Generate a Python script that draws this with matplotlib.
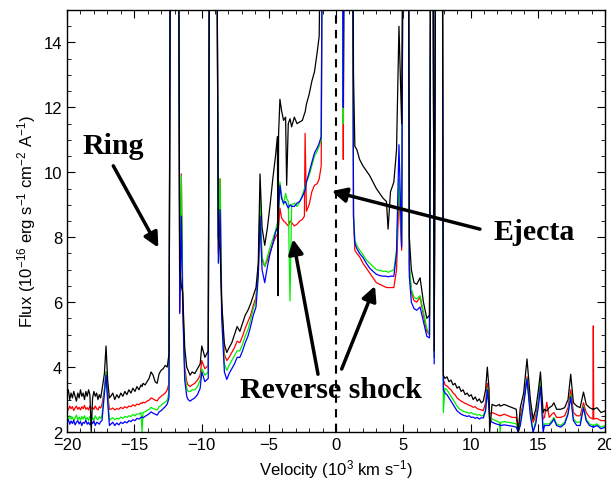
import matplotlib
matplotlib.use('Agg')
import matplotlib.pyplot as plt
from matplotlib.ticker import MultipleLocator

plt.rcParams['font.family'] = 'Liberation Sans'
plt.rcParams['mathtext.default'] = 'regular'

# velocity grid (10^3 km/s); flux values above 15 are lines running off the top
velocity = [
    -20.0, -19.9, -19.8, -19.7, -19.6, -19.5, -19.4, -19.3, -19.2, -19.1, -19.0, -18.9, -18.8, -18.7,
    -18.6, -18.5, -18.4, -18.3, -18.2, -18.1, -18.0, -17.9, -17.8, -17.7, -17.6, -17.5, -17.4,
    -17.22, -17.1, -16.98, -16.85,
    -16.75, -16.6, -16.45, -16.3, -16.15, -16.0, -15.85, -15.7, -15.55, -15.4,
    -15.25, -15.1, -14.95, -14.8, -14.65, -14.5, -14.42, -14.35, -14.2, -14.05,
    -13.9, -13.75, -13.6, -13.45, -13.3, -13.15, -13.0, -12.85, -12.7, -12.55, -12.42,
    -12.3, -11.72, -11.62, -11.5, -11.4, -11.25, -11.1, -11.0,
    -10.85, -10.7, -10.5, -10.3, -10.1, -9.98, -9.75, -9.5,
    -9.4, -8.88, -8.75, -8.62, -8.5, -8.3, -8.12,
    -7.95, -7.75, -7.55, -7.35, -7.15, -6.95, -6.75, -6.55, -6.35, -6.15, -5.95, -5.78,
    -5.65, -5.5, -5.3, -5.1, -4.9, -4.7, -4.5, -4.36, -4.31, -4.27,
    -4.17, -4.05, -3.9, -3.75, -3.67, -3.55, -3.42, -3.3, -3.1, -2.9, -2.7, -2.5, -2.35, -2.3,
    -2.2, -2.0, -1.8, -1.6, -1.4, -1.25, -1.1,
    -1.0, 0.45, 0.54, 0.63, 1.22, 1.3,
    1.4, 1.55, 1.75, 2.0, 2.25, 2.5, 2.75, 3.0, 3.25, 3.5, 3.75, 3.87, 4.05, 4.3,
    4.5, 4.68, 4.88, 5.0, 5.38, 5.45,
    5.6, 5.8, 6.0, 6.25, 6.5, 6.75, 6.95,
    7.05, 7.2, 7.3, 7.42, 7.9,
    7.98, 8.1, 8.25, 8.4, 8.55, 8.7, 8.85, 9.0, 9.15, 9.3,
    9.45, 9.6, 9.75, 9.9, 10.05, 10.2, 10.35, 10.5, 10.65, 10.8, 10.95,
    11.12, 11.25, 11.38, 11.42, 11.6,
    11.9, 12.15, 12.2, 12.25, 12.5, 12.8, 13.1, 13.4, 13.55, 13.7,
    13.95, 14.2, 14.45, 14.65, 14.85, 15.05, 15.2, 15.4, 15.5, 15.67,
    15.85, 16.05, 16.2, 16.4, 16.7, 17.0, 17.25, 17.45, 17.65, 17.9,
    18.15, 18.4, 18.6, 18.85, 19.1, 19.13, 19.16, 19.4, 19.7, 20.0,
]

flux_black = [
    3.15, 3.3, 3.0, 3.2, 3.05, 3.25, 3.1, 2.95, 3.2, 3.05, 3.3, 3.1, 3.2, 3.0,
    3.25, 3.1, 3.3, 3.15, 2.0, 3.05, 3.25, 3.1, 3.2, 3.0, 3.15, 3.05, 3.3,
    3.8, 4.65, 3.6, 3.05,
    3.1, 3.2, 3.0, 3.15, 3.05, 3.2, 3.1, 3.25, 3.15, 3.3,
    3.2, 3.35, 3.25, 3.4, 3.3, 3.45, 3.4, 3.5, 3.45, 3.55,
    3.65, 3.85, 3.75, 3.55, 3.5, 3.8, 3.9, 3.95, 4.05, 4.0, 4.4,
    20, 20, 7.0, 6.5, 6.3, 4.6, 4.0, 3.9,
    3.75, 3.85, 3.8, 3.95, 4.1, 4.65, 4.3, 4.5,
    20, 20, 8.0, 7.6, 6.0, 4.7, 4.45,
    4.6, 4.75, 5.0, 5.25, 5.1, 5.35, 5.6, 5.75, 5.95, 6.2, 6.45, 7.2,
    9.95, 8.3, 7.75, 8.3, 9.0, 9.8, 10.5, 11.1, 6.2, 11.2,
    12.25, 11.9, 11.6, 11.7, 9.6, 11.5, 11.65, 11.4, 11.7, 11.5, 11.55, 11.6, 11.8, 11.85,
    12.1, 12.4, 12.8, 13.1, 13.7, 14.2, 20,
    20, 20, 20, 20, 20, 13.0,
    10.8, 10.7, 10.4, 10.2, 10.05, 9.9, 9.7, 9.5, 9.35, 9.2, 9.1, 8.25, 9.4, 9.7,
    10.7, 14.5, 11.5, 20, 20, 8.0,
    7.0, 6.6, 6.55, 6.75, 6.0, 5.5, 5.6,
    20, 20, 4.5, 20, 20,
    3.75, 3.65, 3.7, 3.55, 3.6, 3.45, 3.5, 3.35, 3.4, 3.25,
    3.3, 3.15, 3.2, 3.1, 3.15, 3.0, 3.08, 2.95, 3.02, 2.9, 2.95,
    3.3, 4.0, 3.3, 2.0, 2.85,
    2.8, 2.85, 2.8, 2.8, 2.85, 2.8, 2.75, 2.7, 2.0, 2.75,
    3.2, 4.25, 3.0, 2.4, 2.7, 3.3, 3.85, 2.6, 2.7, 2.65,
    2.75, 2.8, 2.9, 2.7, 2.7, 2.75, 3.0, 3.78, 2.9, 2.8,
    2.75, 3.23, 2.85, 2.75, 2.7, 2.72, 2.7, 2.75, 2.6, 2.65,
]

flux_red = [
    2.75, 2.68, 2.8, 2.72, 2.78, 2.66, 2.74, 2.8, 2.7, 2.76, 2.68, 2.78, 2.72, 2.82,
    2.7, 2.75, 2.68, 2.8, 2.72, 2.76, 2.7, 2.8, 2.72, 2.68, 2.78, 2.74, 2.85,
    3.3, 3.85, 3.2, 2.7,
    2.7, 2.74, 2.68, 2.72, 2.7, 2.76, 2.72, 2.78, 2.74, 2.8,
    2.78, 2.84, 2.8, 2.86, 2.84, 2.9, 2.88, 2.92, 2.9, 2.95,
    2.98, 3.05, 3.02, 2.98, 2.96, 3.05, 3.1, 3.15, 3.2, 3.3, 3.5,
    20, 20, 5.7, 9.95, 6.0, 4.0, 3.55, 3.45,
    3.4, 3.45, 3.5, 3.6, 3.75, 4.2, 3.95, 4.05,
    20, 20, 7.5, 9.8, 6.0, 4.4, 4.2,
    4.3, 4.45, 4.6, 4.8, 4.75, 4.95, 5.2, 5.4, 5.6, 5.9, 6.15, 7.0,
    8.5, 7.3, 7.1, 7.3, 7.55, 7.8, 8.0, 8.1, 8.15, 8.3,
    8.9, 8.6, 8.5, 8.45, 8.4, 8.35, 8.5, 8.45, 8.35, 8.4, 8.5, 8.55, 8.65, 11.2,
    8.8, 9.0, 9.4, 9.6, 9.65, 9.8, 10.2,
    20, 20, 10.4, 20, 20, 8.6,
    7.6, 7.5, 7.4, 7.2, 7.05, 6.9, 6.75, 6.6, 6.55, 6.5, 6.45, 6.45, 6.45, 6.45,
    7.0, 9.3, 7.6, 20, 20, 7.0,
    6.3, 6.05, 6.0, 6.15, 5.6, 5.1, 5.0,
    20, 20, 4.3, 20, 20,
    3.63, 3.45, 3.42, 3.35, 3.3, 3.2, 3.15, 3.05, 3.0, 2.95,
    2.92, 2.88, 2.86, 2.82, 2.8, 2.76, 2.78, 2.72, 2.7, 2.68, 2.66,
    2.9, 3.5, 2.9, 2.55, 2.6,
    2.55, 2.5, 2.52, 2.5, 2.55, 2.5, 2.45, 2.45, 2.0, 2.5,
    2.95, 3.7, 2.7, 2.3, 2.5, 2.95, 3.5, 2.4, 2.45, 2.92,
    2.45, 2.55, 2.6, 2.45, 2.45, 2.5, 2.75, 3.3, 2.6, 2.5,
    2.5, 2.9, 2.6, 2.45, 2.4, 5.27, 2.4, 2.42, 2.35, 2.35,
]

flux_green = [
    2.45, 2.36, 2.5, 2.4, 2.46, 2.34, 2.44, 2.52, 2.38, 2.46, 2.36, 2.48, 2.4, 2.5,
    2.38, 2.45, 2.35, 2.48, 2.4, 2.44, 2.36, 2.5, 2.42, 2.37, 2.47, 2.42, 2.5,
    3.3, 3.85, 3.1, 2.35,
    2.4, 2.44, 2.38, 2.42, 2.4, 2.46, 2.42, 2.48, 2.45, 2.5,
    2.48, 2.54, 2.5, 2.56, 2.55, 2.6, 2.0, 2.6, 2.62, 2.66,
    2.7, 2.76, 2.72, 2.7, 2.68, 2.78, 2.82, 2.88, 2.92, 2.98, 3.2,
    20, 20, 6.5, 9.9, 6.4, 3.85, 3.35, 3.25,
    3.25, 3.3, 3.3, 3.4, 3.6, 3.95, 3.75, 3.85,
    20, 20, 7.8, 9.8, 5.8, 4.1, 3.9,
    4.05, 4.2, 4.35, 4.5, 4.5, 4.7, 4.95, 5.15, 5.45, 5.8, 6.05, 7.0,
    9.3, 7.4, 7.1, 7.4, 7.7, 7.95, 8.2, 8.45, 8.5, 8.9,
    9.7, 9.3, 9.0, 9.35, 9.2, 9.1, 6.04, 9.0, 9.05, 8.95, 9.1, 9.3, 9.5, 9.55,
    9.7, 9.9, 10.2, 10.5, 10.65, 10.8, 11.0,
    20, 20, 11.5, 20, 20, 8.7,
    7.9, 7.75, 7.6, 7.47, 7.3, 7.2, 7.1, 7.0, 6.98, 6.95, 6.95, 6.92, 6.95, 7.0,
    7.6, 9.8, 7.8, 20, 20, 7.2,
    6.4, 6.15, 6.1, 6.2, 5.7, 5.2, 5.0,
    20, 20, 4.3, 20, 20,
    2.6, 3.35, 3.3, 3.2, 3.1, 3.0, 2.9, 2.8, 2.72, 2.68,
    2.64, 2.62, 2.6, 2.58, 2.6, 2.55, 2.56, 2.52, 2.54, 2.5, 2.5,
    2.7, 3.35, 2.75, 2.45, 2.4,
    2.35, 2.3, 2.0, 2.3, 2.32, 2.3, 2.28, 2.25, 2.0, 2.3,
    2.9, 3.65, 2.6, 2.0, 2.35, 2.9, 3.6, 2.1, 2.25, 2.25,
    2.25, 2.35, 2.45, 2.25, 2.2, 2.3, 2.6, 3.15, 2.4, 2.3,
    2.3, 2.8, 2.4, 2.25, 2.2, 2.22, 2.2, 2.25, 2.15, 2.2,
]

flux_blue = [
    2.3, 2.38, 2.24, 2.34, 2.26, 2.36, 2.22, 2.3, 2.35, 2.25, 2.32, 2.2, 2.3, 2.27,
    2.36, 2.24, 2.3, 2.22, 2.32, 2.26, 2.34, 2.2, 2.3, 2.28, 2.24, 2.32, 2.35,
    3.2, 3.75, 2.95, 2.2,
    2.24, 2.3, 2.2, 2.28, 2.22, 2.3, 2.26, 2.32, 2.28, 2.35,
    2.32, 2.38, 2.35, 2.42, 2.4, 2.45, 2.46, 2.44, 2.48, 2.52,
    2.56, 2.62, 2.58, 2.55, 2.52, 2.62, 2.66, 2.72, 2.78, 2.86, 3.05,
    20, 20, 5.65, 8.65, 5.9, 3.6, 3.1, 3.0,
    2.95, 3.0, 3.05, 3.15, 3.35, 3.85, 3.55, 3.65,
    20, 20, 7.2, 8.85, 5.5, 3.85, 3.62,
    3.8, 3.95, 4.1, 4.3, 4.3, 4.5, 4.75, 4.95, 5.25, 5.6, 5.85, 6.8,
    8.65, 7.0, 6.6, 7.1, 7.5, 7.8, 8.15, 8.3, 8.4, 8.8,
    9.6, 9.2, 9.05, 9.1, 9.0, 8.9, 9.0, 8.95, 8.95, 9.05, 9.1, 9.25, 9.4, 9.45,
    9.7, 10.0, 10.3, 10.6, 10.75, 10.9, 11.1,
    20, 20, 12.0, 20, 20, 8.65,
    7.8, 7.65, 7.5, 7.38, 7.2, 7.05, 6.95, 6.86, 6.82, 6.8, 6.8, 6.78, 6.8, 6.8,
    7.5, 10.85, 7.7, 20, 20, 6.8,
    6.0, 5.8, 5.75, 5.85, 5.4, 4.95, 4.9,
    20, 20, 4.1, 20, 20,
    3.3, 3.2, 3.15, 3.05, 2.95, 2.85, 2.75, 2.65, 2.6, 2.55,
    2.52, 2.5, 2.48, 2.5, 2.45, 2.46, 2.42, 2.45, 2.4, 2.44, 2.43,
    2.65, 3.3, 2.7, 2.4, 2.3,
    2.25, 2.22, 2.2, 2.2, 2.22, 2.2, 2.18, 2.15, 2.0, 2.2,
    2.85, 3.63, 2.5, 2.0, 2.25, 2.8, 3.4, 2.0, 2.2, 2.2,
    2.2, 2.3, 2.4, 2.2, 2.15, 2.25, 2.55, 3.08, 2.35, 2.2,
    2.2, 2.75, 2.35, 2.2, 2.15, 2.17, 2.15, 2.2, 2.1, 2.15,
]

fig = plt.figure(figsize=(6.11, 4.89), dpi=100)
ax = fig.add_axes([0.1097, 0.1145, 0.8805, 0.863])

ax.plot(velocity, flux_red, color='#ff0000', lw=0.9)
ax.plot(velocity, flux_green, color='#00ee00', lw=0.9)
ax.plot(velocity, flux_blue, color='#0000ff', lw=0.9)
ax.plot(velocity, flux_black, color='k', lw=0.9)

ax.axvline(0, color='k', ls='--', lw=1.5, dashes=(4, 3))

ax.set_xlim(-20, 20)
ax.set_ylim(2, 15)
ax.xaxis.set_major_locator(MultipleLocator(5))
ax.xaxis.set_minor_locator(MultipleLocator(1))
ax.yaxis.set_major_locator(MultipleLocator(2))
ax.yaxis.set_minor_locator(MultipleLocator(0.5))
ax.tick_params(which='both', direction='in', top=True, right=True, labelsize=12)
ax.tick_params(which='major', length=6)
ax.tick_params(which='minor', length=3)
for s in ax.spines.values():
    s.set_linewidth(1.0)

ax.set_xlabel('Velocity (10$^3$ km s$^{-1}$)', fontsize=12)
ax.set_ylabel('Flux (10$^{-16}$ erg s$^{-1}$ cm$^{-2}$ A$^{-1}$)', fontsize=12)

# labels with arrows
lab = dict(family='Liberation Serif', fontweight='bold', fontsize=21.5,
           ha='center', va='center')
arr = dict(arrowstyle='-|>', lw=2.5, color='k', mutation_scale=22,
           shrinkA=0, shrinkB=0)
ax.text(-16.6, 10.83, 'Ring', **lab)
ax.annotate('', xy=(-13.21, 7.68), xytext=(-16.56, 10.2), arrowprops=arr)
ax.text(14.72, 8.18, 'Ejecta', **lab)
ax.annotate('', xy=(-0.32, 9.42), xytext=(10.7, 8.25), arrowprops=arr)
ax.text(-0.41, 3.32, 'Reverse shock', **lab)
ax.annotate('', xy=(-3.2, 7.94), xytext=(-1.34, 3.78), arrowprops=arr)
ax.annotate('', xy=(2.9, 6.5), xytext=(0.42, 3.94), arrowprops=arr)

fig.savefig('out.png', dpi=100)
